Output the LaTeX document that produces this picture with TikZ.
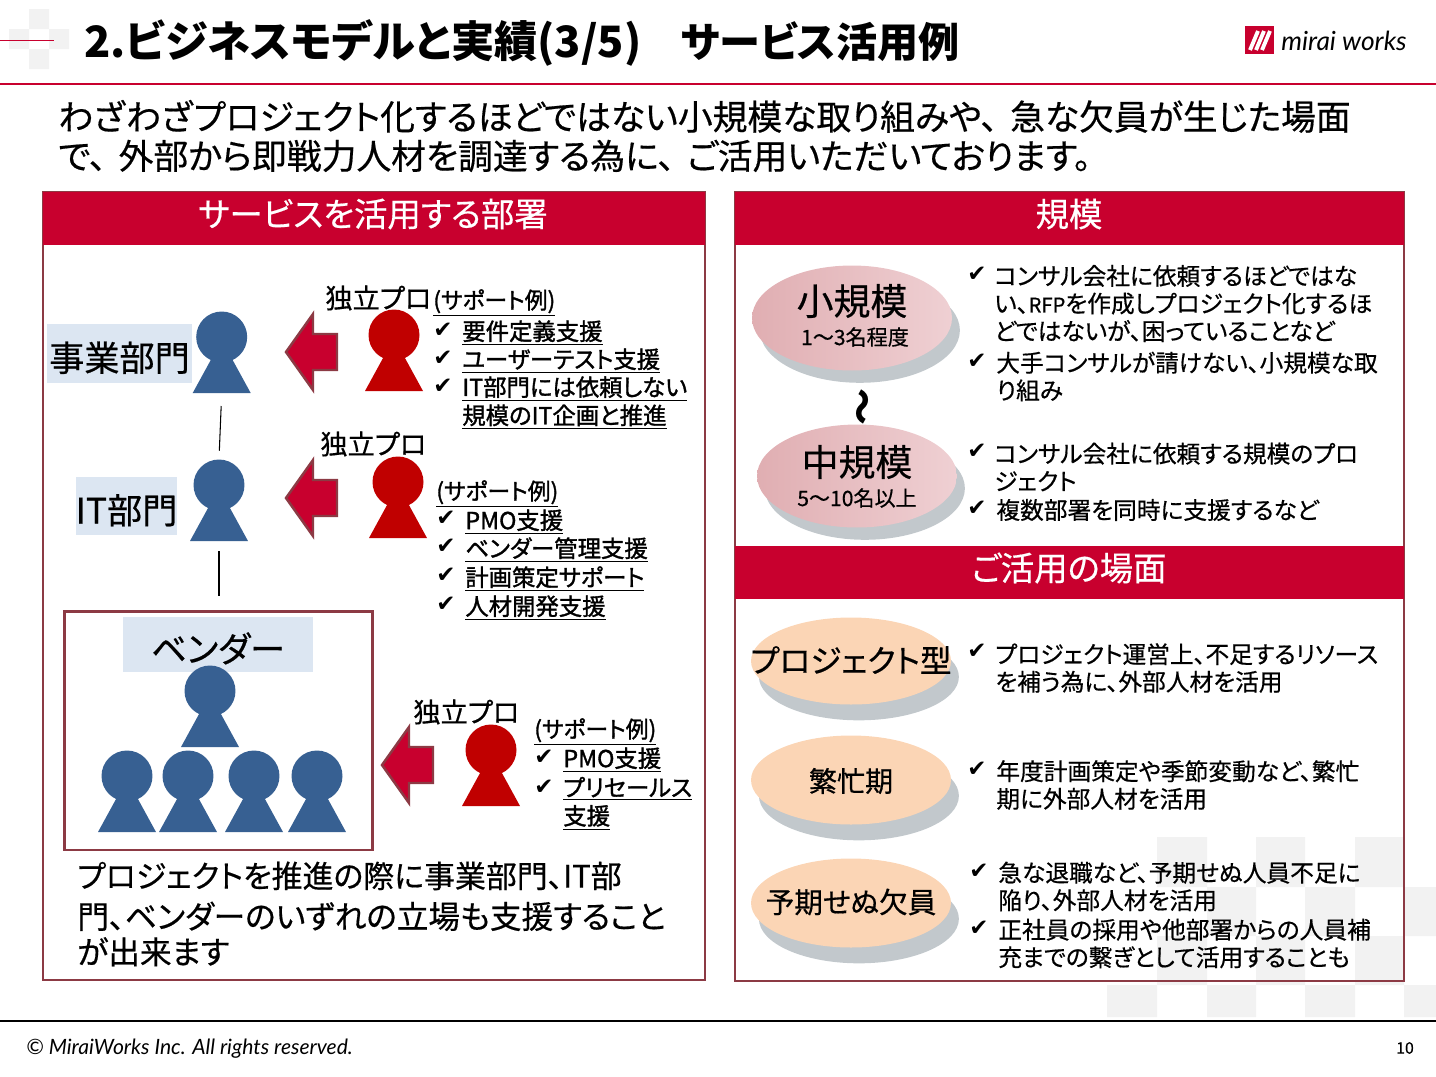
\documentclass[tikz,border=0pt]{standalone}
\usepackage{fontspec}
\usepackage{xcolor}
\usepackage{tikz}
\usetikzlibrary{positioning, shapes.geometric, shadows}

\setmainfont[RawFeature=+palt,UprightFeatures={FakeBold=0.5}]{Noto Sans CJK JP}
\newfontfamily\supfont[RawFeature=+palt,FakeBold=1.4]{Noto Sans CJK JP}
\newfontfamily\checkfont{DejaVu Sans}
\newfontfamily\handfont{Lato}

\definecolor{crimson}{HTML}{C8002E}
\definecolor{panelline}{HTML}{8C3A44}
\definecolor{blueman}{HTML}{376092}
\definecolor{redman}{HTML}{C00000}
\definecolor{labelfill}{HTML}{DCE6F2}
\definecolor{checker}{HTML}{F2F2F2}
\definecolor{pinkdark}{HTML}{E0AEB2}
\definecolor{pinklight}{HTML}{EFD0D3}
\definecolor{peach}{HTML}{FBD5B5}
\definecolor{blobshadow}{HTML}{C2C8CC}

\newcommand{\fs}[2]{\fontsize{#1}{#2}\selectfont}
\newcommand{\ten}{、\kern.35em}
\newcommand{\person}[4]{
    \fill[#4] (#2,#3+3) -- (#2+29,#3+56) -- (#2-29,#3+56) -- cycle;
    \node[head, fill=#4] (#1) at (#2,#3) {};
    \coordinate (#1foot) at (#2,#3+56);
}
\newcommand{\redarrow}[2]{
    \draw[crimson arrow] (#1,#2) -- (#1+27,#2-38) -- (#1+27,#2-18) -- (#1+51,#2-18)
        -- (#1+51,#2+18) -- (#1+27,#2+18) -- (#1+27,#2+38) -- cycle;
}

\begin{document}
\begin{tikzpicture}[
    x=0.02cm, y=-0.02cm,
    head/.style={circle, inner sep=0pt, minimum size=1.02cm},
    crimson arrow/.style={fill=crimson, draw=panelline, line width=1.4pt, line join=miter},
    panel/.style={draw=panelline, line width=0.7pt},
    headtext/.style={text=white, font=\fs{19}{23}, inner sep=0pt},
    labelbox/.style={fill=labelfill, inner sep=0pt, font=\fs{20}{24}, text height=22pt, text depth=2pt},
    txt/.style={anchor=west, inner sep=0pt, align=left},
    pro/.style={txt, font=\fs{15.5}{19}},
    sup/.style={txt, font=\supfont\fs{13}{16}},
    supitem/.style={txt, font=\supfont\fs{13.3}{16.1}},
    item/.style={txt, font=\fs{13.5}{15.7}},
    chk/.style={inner sep=0pt, font=\checkfont\fs{13}{15}},
    pinkblob/.style={ellipse, inner sep=0pt, shading angle=135, left color=pinkdark, right color=pinklight,
        drop shadow={shadow xshift=4.5pt, shadow yshift=-7pt, fill=blobshadow, opacity=1}},
    peachblob/.style={ellipse, inner sep=0pt, fill=peach,
        drop shadow={shadow xshift=4.5pt, shadow yshift=-9pt, fill=blobshadow, opacity=1}},
    link/.style={draw=black, line width=0.6pt}
]
\useasboundingbox (0,0) rectangle (1436,1076);

% Background squares
\fill[checker] (29,9) rectangle (49,29) (9,29) rectangle (29,49) (49,29) rectangle (69,49) (29,49) rectangle (49,69);
\fill[checker] (1157,837) rectangle (1207,887) (1256,837) rectangle (1305,887) (1355,837) rectangle (1404,887);
\fill[checker] (1207,887) rectangle (1256,936) (1305,887) rectangle (1355,936) (1404,887) rectangle (1436,936);
\fill[checker] (1157,936) rectangle (1207,985) (1256,936) rectangle (1305,985) (1355,936) rectangle (1404,985);
\fill[checker] (1107,985) rectangle (1157,1017) (1207,985) rectangle (1256,1017) (1305,985) rectangle (1355,1017) (1404,985) rectangle (1436,1017);

% Title
\draw[crimson, line width=0.5pt] (0,40) -- (54,40);
\draw[crimson, line width=1.5pt] (0,84) -- (1436,84);
\node[txt, font=\fs{24.6}{28}\bfseries] (title) at (84,43) {2.ビジネスモデルと実績(3/5)\kern-2pt　{\fs{23.4}{28}サービス活用例}};
\fill[crimson] (1245,26) rectangle (1274,54);
\draw[white, line width=2.2pt] (1250,50) -- (1258,31) (1256,50) -- (1264,31) (1262,50) -- (1270,31);
\node[txt, font=\handfont\itshape\fs{15}{18}] (logo) at (1281,41) {mirai works};

% Intro
\node[txt, font=\fs{19.8}{22.3}] (intro) at (58,136) {わざわざプロジェクト化するほどではない小規模な取り組みや\ten 急な欠員が生じた場面\\で\ten 外部から即戦力人材を調達する為に\ten ご活用いただいております。};

% Left panel
\draw[panel] (43,192) rectangle (705,980);
\fill[crimson] (43,192) rectangle (705,245);
\node[headtext] (depthead) at (373,214) {サービスを活用する部署};

% Business department
\node[labelbox, minimum width=2.9cm, minimum height=1.18cm] (bizlabel) at (119.5,353.5) {事業部門};
\person{bizman}{221.7}{337}{blueman}
\redarrow{286}{352}
\person{bizpro}{394}{335}{redman}
\node[pro] (bizprotext) at (325,298) {独立プロ};
\node[sup] (bizsup) at (433,303) {\underline{(サポート例)}};
\node[chk] (bizc1) at (443,330) {✔};
\node[chk] (bizc2) at (443,358) {✔};
\node[chk] (bizc3) at (443,386) {✔};
\node[supitem] (bizs1) at (462,333) {\underline{要件定義支援}};
\node[supitem] (bizs2) at (462,361) {\underline{ユーザーテスト支援}};
\node[supitem] (bizs3) at (462,403) {\underline{IT部門には依頼しない}\\\underline{規模のIT企画と推進}};

% IT department
\node[labelbox, minimum width=1.96cm, minimum height=1.16cm] (itlabel) at (126.5,506) {IT部門};
\person{itman}{219}{485}{blueman}
\redarrow{286}{498}
\person{itpro}{398}{482}{redman}
\node[pro] (itprotext) at (320,444) {独立プロ};
\node[sup] (itsup) at (436,494) {\underline{(サポート例)}};
\node[chk] (itc1) at (446,518) {✔};
\node[chk] (itc2) at (446,546) {✔};
\node[chk] (itc3) at (446,575) {✔};
\node[chk] (itc4) at (446,604) {✔};
\node[supitem] (its1) at (465,522) {\underline{PMO支援}};
\node[supitem] (its2) at (465,550) {\underline{ベンダー管理支援}};
\node[supitem] (its3) at (465,579) {\underline{計画策定サポート}};
\node[supitem] (its4) at (465,608) {\underline{人材開発支援}};

% Vendor
\node[draw=panelline, line width=1.7pt, minimum width=6.18cm, minimum height=4.78cm, inner sep=0pt] (vendorbox) at (218.5,730.5) {};
\node[labelbox, minimum width=3.8cm, minimum height=1.1cm] (vendorlabel) at (218,644.5) {ベンダー};
\person{vendortop}{210}{691}{blueman}
\person{vendora}{127}{776}{blueman}
\person{vendorb}{188}{776}{blueman}
\person{vendorc}{254}{776}{blueman}
\person{vendord}{317}{776}{blueman}
\redarrow{382}{765}
\person{vendorpro}{491}{750}{redman}
\node[pro] (vendorprotext) at (413,712) {独立プロ};
\node[sup] (vendorsup) at (534,732) {\underline{(サポート例)}};
\node[chk] (vendorc1) at (544,757) {✔};
\node[chk] (vendorc2) at (544,787) {✔};
\node[supitem] (vendors1) at (563,760) {\underline{PMO支援}};
\node[supitem] (vendors2) at (563,803.5) {\underline{プリセールス}\\\underline{支援}};

% Links between departments
\draw[link, shorten <=7.4pt, shorten >=4.8pt] (bizmanfoot) -- (itman.north);
\draw[link, shorten <=5.7pt, shorten >=7.9pt] (itmanfoot) -- (vendorbox.north -| itmanfoot);

\node[txt, font=\fs{18}{21}] (leftnote) at (77,914) {{\fs{17.6}{21}プロジェクトを推進の際に事業部門、IT部}\\[2.2pt]門、ベンダーのいずれの立場も支援すること\\[-0.8pt]が出来ます};

% Right panel
\draw[panel] (735,192) rectangle (1404,981);
\fill[crimson] (735,192) rectangle (1404,245);
\fill[crimson] (735,546) rectangle (1404,599);
\node[headtext] (scalehead) at (1069,214) {規模};
\node[headtext] (scenehead) at (1069,568) {ご活用の場面};

% Scale
\node[pinkblob, minimum width=4cm, minimum height=2.1cm] (small) at (852,318) {};
\node[font=\fs{21}{25}, inner sep=0pt] (smalltext) at (852,301) {小規模};
\node[font=\fs{12}{14}, inner sep=0pt] (smallnum) at (855,337) {1～3名程度};
\node[rotate=-90, font=\fs{21}{25}\bfseries, inner sep=0pt] (wave) at (859,407) {～};
\node[pinkblob, minimum width=4cm, minimum height=2.06cm] (medium) at (857,476) {};
\node[font=\fs{21}{25}, inner sep=0pt] (mediumtext) at (857,462) {中規模};
\node[font=\fs{12}{14}, inner sep=0pt] (mediumnum) at (857,498) {5～10名以上};

\node[chk] (sc1) at (977,274) {✔};
\node[item] (st1) at (994,303.5) {コンサル会社に依頼するほどではな\\い、{\fs{11.5}{15.7}RFP}を作成しプロジェクト化するほ\\どではないが、困っていることなど};
\node[chk] (sc2) at (977,361) {✔};
\node[item] (st2) at (996,376.5) {大手コンサルが請けない、小規模な取\\り組み};
\node[chk] (sc3) at (977,451) {✔};
\node[item] (st3) at (994,467) {コンサル会社に依頼する規模のプロ\\ジェクト};
\node[chk] (sc4) at (977,508) {✔};
\node[item] (st4) at (996,510) {複数部署を同時に支援するなど};

% Scenes
\node[peachblob, minimum width=4cm, minimum height=1.74cm] (project) at (851,661) {};
\node[font=\fs{18}{22}, inner sep=0pt] (projecttext) at (851,660) {プロジェクト型};
\node[peachblob, minimum width=4cm, minimum height=1.78cm] (busy) at (851,780) {};
\node[font=\fs{16}{20}, inner sep=0pt] (busytext) at (851,781) {繁忙期};
\node[peachblob, minimum width=4cm, minimum height=1.78cm] (absent) at (851,903) {};
\node[font=\fs{16.3}{20}, inner sep=0pt] (absenttext) at (851,902) {予期せぬ欠員};

\node[chk] (pc1) at (977,651) {✔};
\node[item] (pt1) at (995,668) {プロジェクト運営上、不足するリソース\\を補う為に、外部人材を活用};
\node[chk] (bc1) at (977,769) {✔};
\node[item] (bt1) at (996,785) {年度計画策定や季節変動など、繁忙\\期に外部人材を活用};
\node[chk] (ac1) at (979,871) {✔};
\node[item] (at1) at (998,886.5) {急な退職など、予期せぬ人員不足に\\陥り、外部人材を活用};
\node[chk] (ac2) at (979,928) {✔};
\node[item] (at2) at (998,943.5) {正社員の採用や他部署からの人員補\\充までの繋ぎとして活用することも};

% Footer
\draw[black, line width=1.5pt] (0,1021) -- (1436,1021);
\node[txt, font=\handfont\itshape\fs{12}{14}] (copyright) at (26,1049) {© MiraiWorks Inc. All rights reserved.};
\node[font=\fs{9}{11}, inner sep=0pt] (pageno) at (1405,1048) {10};

\end{tikzpicture}
\end{document}
